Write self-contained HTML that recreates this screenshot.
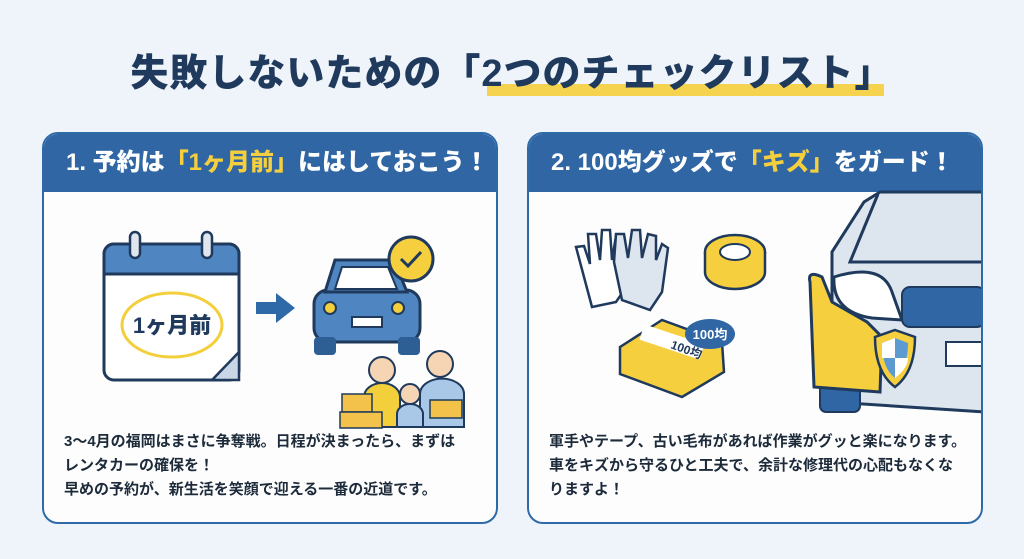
<!DOCTYPE html>
<html><head><meta charset="utf-8"><style>
body{margin:0;width:1024px;height:559px;background:#eef4f9;font-family:"Liberation Sans","Noto Sans CJK JP",sans-serif;position:relative;overflow:hidden}
.title{position:absolute;top:42px;left:0;width:1024px;text-align:center;font-size:38px;font-weight:900;color:#1f3a5c;letter-spacing:1px}
.ul{position:absolute;left:487px;top:84px;width:397px;height:12px;background:#f6d34f}
.panel{position:absolute;top:132px;width:452px;height:388px;border:2px solid #2e6aa8;border-radius:16px;background:#fdfdfd;overflow:hidden}
.hd{height:58px;background:#2f66a3;color:#fff;font-size:24px;font-weight:900;line-height:58px;padding-left:22px}
.hd b{color:#f6cf3e}
.txt{position:absolute;left:20px;top:296px;font-size:15px;font-weight:700;color:#1c2a3a;line-height:24px}
svg{position:absolute;left:0;top:0}
</style></head><body>
<div class="ul"></div>
<div class="title">失敗しないための「2つのチェックリスト」</div>
<div class="panel" style="left:42px">
<div class="hd">1. 予約は<b>「1ヶ月前」</b>にはしておこう！</div>
<svg width="452" height="300" viewBox="42 132 452 300">
<rect x="102" y="242" width="135" height="136" rx="10" fill="#fff" stroke="#1f3a5c" stroke-width="3"/>
<path d="M102 272 V252 a10 10 0 0 1 10 -10 H227 a10 10 0 0 1 10 10 V272 Z" fill="#4f86c2" stroke="#1f3a5c" stroke-width="3"/>
<rect x="128" y="230" width="10" height="26" rx="5" fill="#dfe6ee" stroke="#1f3a5c" stroke-width="2.5"/>
<rect x="200" y="230" width="10" height="26" rx="5" fill="#dfe6ee" stroke="#1f3a5c" stroke-width="2.5"/>
<path d="M237 350 L210 378 L237 378Z" fill="#c8d6e5" stroke="#1f3a5c" stroke-width="2.5"/>
<ellipse cx="170" cy="323" rx="50" ry="32" fill="none" stroke="#f3cf3c" stroke-width="3"/>
<text x="170" y="331" text-anchor="middle" font-size="22" font-weight="900" fill="#1f3a5c">1ヶ月前</text>
<path d="M254 300 H274 V291 L293 306 L274 321 V312 H254Z" fill="#2e6aa8"/>
<rect x="312" y="288" width="106" height="52" rx="14" fill="#4f86c2" stroke="#1f3a5c" stroke-width="3"/>
<path d="M323 290 L333 258 H392 L405 290Z" fill="#4f86c2" stroke="#1f3a5c" stroke-width="3"/>
<path d="M333 287 L340 265 H386 L395 287Z" fill="#fff" stroke="#1f3a5c" stroke-width="2"/>
<rect x="312" y="335" width="22" height="18" rx="4" fill="#2e5f94"/><rect x="396" y="335" width="22" height="18" rx="4" fill="#2e5f94"/>
<circle cx="328" cy="306" r="6" fill="#f3cf3c" stroke="#1f3a5c" stroke-width="2"/><circle cx="396" cy="306" r="6" fill="#f3cf3c" stroke="#1f3a5c" stroke-width="2"/>
<rect x="350" y="315" width="30" height="10" fill="#fff" stroke="#1f3a5c" stroke-width="2"/>
<circle cx="409" cy="257" r="22" fill="#f6cf3e" stroke="#1f3a5c" stroke-width="3"/>
<path d="M399 257 L406 264 L419 250" fill="none" stroke="#1f3a5c" stroke-width="3"/>
<circle cx="380" cy="368" r="13" fill="#f6d5b5" stroke="#1f3a5c" stroke-width="2"/>
<path d="M362 425 V395 a18 14 0 0 1 36 0 V425Z" fill="#f3cf3c" stroke="#1f3a5c" stroke-width="2"/>
<circle cx="438" cy="362" r="13" fill="#f6d5b5" stroke="#1f3a5c" stroke-width="2"/>
<path d="M418 425 V392 a20 14 0 0 1 44 0 V425Z" fill="#a9c8e8" stroke="#1f3a5c" stroke-width="2"/>
<circle cx="408" cy="392" r="10" fill="#f6d5b5" stroke="#1f3a5c" stroke-width="2"/>
<path d="M395 425 V412 a13 10 0 0 1 26 0 V425Z" fill="#a9c8e8" stroke="#1f3a5c" stroke-width="2"/>
<rect x="340" y="392" width="30" height="18" fill="#f2c24a" stroke="#1f3a5c" stroke-width="1.5"/>
<rect x="338" y="410" width="42" height="16" fill="#f2c24a" stroke="#1f3a5c" stroke-width="1.5"/>
<rect x="428" y="398" width="32" height="18" fill="#f2c24a" stroke="#1f3a5c" stroke-width="1.5"/>
</svg>
<div class="txt">3～4月の福岡はまさに争奪戦。日程が決まったら、まずは<br>レンタカーの確保を！<br>早めの予約が、新生活を笑顔で迎える一番の近道です。</div>
</div>
<div class="panel" style="left:527px">
<div class="hd">2. 100均グッズで<b>「キズ」</b>をガード！</div>
<svg width="452" height="300" viewBox="527 132 452 300">
<path d="M590 305 L578 260 L574 245 L582 244 L588 262 L586 232 L594 232 L598 258 L600 228 L608 228 L610 258 L614 234 L621 236 L618 270 L632 262 L636 268 L614 300Z" fill="#fff" stroke="#1f3a5c" stroke-width="2.5"/>
<path d="M620 298 L612 260 L614 232 L622 232 L626 256 L630 228 L638 228 L640 256 L646 232 L654 234 L654 258 L660 242 L666 246 L660 290 L648 308Z" fill="#dde5ee" stroke="#1f3a5c" stroke-width="2.5"/>
<ellipse cx="733" cy="250" rx="30" ry="17" fill="#f6cf3e" stroke="#1f3a5c" stroke-width="2.5"/>
<path d="M703 250 V270 a30 17 0 0 0 60 0 V250" fill="#f6cf3e" stroke="#1f3a5c" stroke-width="2.5"/>
<ellipse cx="733" cy="250" rx="15" ry="8" fill="#fff" stroke="#1f3a5c" stroke-width="2"/>
<path d="M618 345 L660 318 L720 340 L722 370 L680 395 L618 372Z" fill="#f6cf3e" stroke="#1f3a5c" stroke-width="2.5"/>
<path d="M640 330 L700 350" stroke="#fff" stroke-width="16"/>
<text x="668" y="346" font-size="12" font-weight="700" fill="#1f3a5c" transform="rotate(20 668 346)">100均</text>
<ellipse cx="708" cy="332" rx="25" ry="15" fill="#2f66a3"/>
<text x="708" y="337" text-anchor="middle" font-size="13" font-weight="700" fill="#fff">100均</text>
<path d="M830 400 L830 250 L862 200 L878 190 L983 190 L983 410 Z" fill="#dde5ee" stroke="#1f3a5c" stroke-width="3"/>
<path d="M876 192 L848 260 L983 260" fill="none" stroke="#1f3a5c" stroke-width="3"/>
<path d="M832 275 Q880 260 890 290 L900 318 L870 316 Q830 310 832 275Z" fill="#fff" stroke="#1f3a5c" stroke-width="3"/>
<rect x="900" y="285" width="83" height="40" rx="8" fill="#2f66a3" stroke="#1f3a5c" stroke-width="2"/>
<rect x="944" y="340" width="39" height="24" fill="#fff" stroke="#1f3a5c" stroke-width="2"/>
<rect x="818" y="380" width="40" height="30" rx="6" fill="#2f66a3" stroke="#1f3a5c" stroke-width="2"/>
<path d="M808 280 Q805 268 820 275 L830 300 L865 320 L880 335 L878 390 L812 385Z" fill="#f6cf3e" stroke="#1f3a5c" stroke-width="3"/>
<path d="M893 328 L913 335 Q913 370 893 385 Q873 370 873 335Z" fill="#f6cf3e" stroke="#1f3a5c" stroke-width="2.5"/>
<path d="M893 336 L906 341 Q906 366 893 376 Q880 366 880 341Z" fill="#5b9bd2"/>
<path d="M893 336 V356 H880 V341Z M893 356 H906 Q906 366 893 376Z" fill="#fff"/>
</svg>
<div class="txt">軍手やテープ、古い毛布があれば作業がグッと楽になります。<br>車をキズから守るひと工夫で、余計な修理代の心配もなくな<br>りますよ！</div>
</div>
</body></html>
